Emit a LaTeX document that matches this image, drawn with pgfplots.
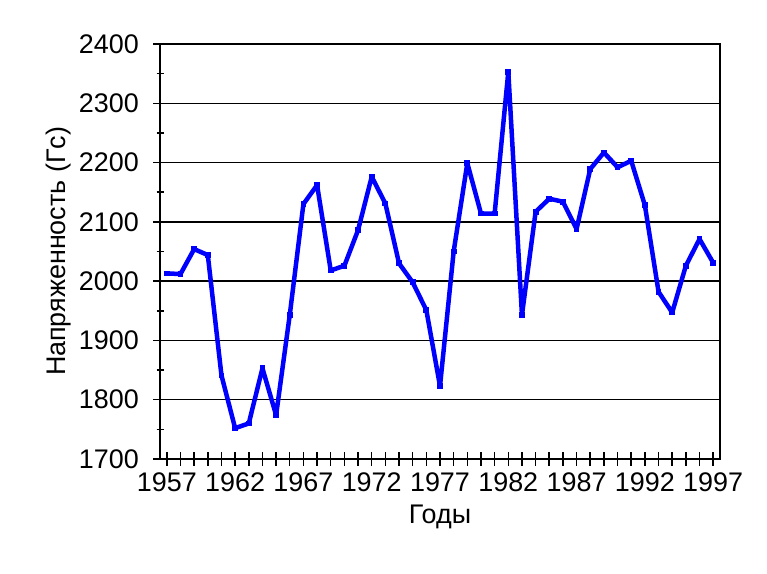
\documentclass[border=0pt]{standalone}
\usepackage{fontspec}
\setmainfont{Liberation Sans}
\usepackage{pgfplots}
\pgfplotsset{compat=1.18}
\begin{document}
\begin{tikzpicture}[x=1bp,y=1bp]
\path[use as bounding box] (0,0) rectangle (767,574);
\begin{axis}[
  at={(160bp,115bp)}, anchor=south west,
  scale only axis, width=560bp, height=415bp,
  xmin=1956.5, xmax=1997.5, ymin=1700, ymax=2400,
  xtick={1957,...,1997},
  xticklabels={1957,,,,,1962,,,,,1967,,,,,1972,,,,,1977,,,,,1982,,,,,1987,,,,,1992,,,,,1997},
  ytick={1700,1800,...,2400}, minor y tick num=1,
  ymajorgrids,
  major grid style={black, line width=1.5bp},
  axis line style={black, line width=1.5bp},
  every tick/.style={black, line width=1.5bp},
  tick align=center, xtick pos=bottom, ytick pos=left,
  major tick length=14bp, minor tick length=7bp,
  /pgf/number format/assume math mode=true,
  /pgf/number format/1000 sep={},
  tick label style={font=\fontsize{27}{27}\selectfont, inner sep=0pt},
  xticklabel style={anchor=north, yshift=-7bp},
  yticklabel style={anchor=east, xshift=-14bp},
  label style={font=\fontsize{27}{27}\selectfont, inner sep=0pt},
  xlabel={Годы},
  xlabel style={at={(axis description cs:0.5,0)}, anchor=north, yshift=-46bp},
  ylabel={Напряженность (Гс)},
  ylabel style={at={(axis description cs:-0.1804,0.5)}, anchor=center},
]
\addplot[color={rgb,255:red,0;green,0;blue,255}, line width=4.5bp, line join=round,
  mark=square*, mark size=2.4bp, mark options={solid, line width=0pt}] coordinates {
  (1957,2013) (1958,2012) (1959,2054) (1960,2044) (1961,1841)
  (1962,1752) (1963,1760) (1964,1853) (1965,1774) (1966,1943)
  (1967,2130) (1968,2162) (1969,2018) (1970,2026) (1971,2086)
  (1972,2176) (1973,2131) (1974,2030) (1975,1998) (1976,1951)
  (1977,1823) (1978,2050) (1979,2199) (1980,2114) (1981,2114)
  (1982,2353) (1983,1943) (1984,2117) (1985,2139) (1986,2134)
  (1987,2088) (1988,2189) (1989,2217) (1990,2192) (1991,2203)
  (1992,2128) (1993,1982) (1994,1947) (1995,2026) (1996,2071)
  (1997,2031)
};
\end{axis}
\end{tikzpicture}
\end{document}
